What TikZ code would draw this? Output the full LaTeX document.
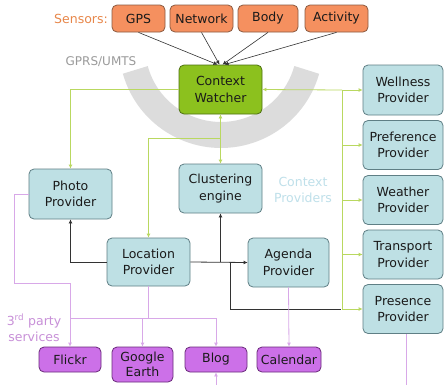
\documentclass[tikz,border=0pt]{standalone}
\usepackage{fontspec}
\setmainfont{DejaVu Sans}
\usetikzlibrary{arrows.meta}
\definecolor{sfill}{HTML}{F5905F}
\definecolor{sborder}{HTML}{8A5A40}
\definecolor{cwfill}{HTML}{8CC11E}
\definecolor{cwborder}{HTML}{4D7010}
\definecolor{pfill}{HTML}{BEE0E4}
\definecolor{pborder}{HTML}{5F7F85}
\definecolor{vfill}{HTML}{CC70E8}
\definecolor{vborder}{HTML}{6A2A7A}
\definecolor{gl}{HTML}{B9D860}
\definecolor{pl}{HTML}{D8A8E8}
\definecolor{bl}{HTML}{333333}
\definecolor{arcgray}{HTML}{DCDCDC}
\definecolor{cptext}{HTML}{BFE0EA}
\definecolor{tptext}{HTML}{C890D8}
\definecolor{sentext}{HTML}{E8874A}
\definecolor{gprstext}{HTML}{9A9A9A}
\definecolor{txt}{HTML}{1A1A1A}
\begin{document}
\begin{tikzpicture}[x=1pt,y=-1pt,
  font=\fontsize{12.5}{16.5}\selectfont,
  box/.style={draw, rounded corners=5pt, align=center, inner sep=0pt, line width=0.8pt, text=txt},
  sensor/.style={box, fill=sfill, draw=sborder, minimum height=27pt},
  prov/.style={box, fill=pfill, draw=pborder, minimum width=82pt, minimum height=49pt},
  cwbox/.style={box, fill=cwfill, draw=cwborder, minimum width=83pt, minimum height=49pt},
  svc/.style={box, fill=vfill, draw=vborder, minimum height=25pt},
  gline/.style={draw=gl, line width=0.8pt},
  pline/.style={draw=pl, line width=0.8pt},
  bline/.style={draw=bl, line width=0.8pt},
  tip/.style={-{Latex[length=4pt,width=4pt]}},
  tipb/.style={{Latex[length=4pt,width=4pt]}-{Latex[length=4pt,width=4pt]}},
  tipr/.style={{Latex[length=4pt,width=4pt]}-}]
\clip (0,0) rectangle (445,384);
\fill[white] (0,0) rectangle (445,384);
% gray arc
\draw[arcgray, line width=26pt] (135.3,69.9) arc[start angle=195.6, end angle=344.4, radius=89pt];
% texts
\node[text=sentext] (senlbl) at (81,18.5) {Sensors:};
\node[text=gprstext, font=\fontsize{12}{14}\selectfont] (gprs) at (101,62) {GPRS/UMTS};
\node[text=cptext, align=center] (cplbl) at (303,190) {Context\\Providers};
\node[text=tptext, align=center] (tplbl) at (34,328) {3\textsuperscript{rd} party\\services};
% sensors
\node[sensor, minimum width=53pt] (gps) at (138.5,18.5) {GPS};
\node[sensor, minimum width=63pt] (net) at (201.5,18.5) {Network};
\node[sensor, minimum width=60pt] (body) at (268,18.5) {Body};
\node[sensor, minimum width=63pt] (act) at (336.5,18.5) {Activity};
% main nodes
\node[cwbox] (cw) at (220.5,89.5) {Context\\Watcher};
\node[prov, minimum width=83pt, minimum height=50pt] (photo) at (70.5,194) {Photo\\Provider};
\node[prov, minimum width=83pt] (clust) at (220.5,188.5) {Clustering\\engine};
\node[prov, minimum width=83pt, minimum height=48pt] (loc) at (148.5,262) {Location\\Provider};
\node[prov, minimum width=81pt] (agenda) at (288.5,262.5) {Agenda\\Provider};
\node[prov, minimum width=80pt, minimum height=50pt] (well) at (403,90) {Wellness\\Provider};
\node[prov, minimum width=80pt] (pref) at (403,145) {Preference\\Provider};
\node[prov, minimum width=80pt] (weather) at (403,200) {Weather\\Provider};
\node[prov, minimum width=80pt] (trans) at (403,254.5) {Transport\\Provider};
\node[prov, minimum width=80pt] (pres) at (403,309) {Presence\\Provider};
% services
\node[svc, minimum width=62pt] (flickr) at (70,359.5) {Flickr};
\node[svc, minimum width=61pt, minimum height=35pt, font=\fontsize{12.5}{15}\selectfont] (gearth) at (142.5,364.5) {Google\\Earth};
\node[svc, minimum width=62pt] (blog) at (216,359.5) {Blog};
\node[svc, minimum width=64pt] (cal) at (289,359.5) {Calendar};
% sensor connectors
\draw[bline, line width=0.6pt, tip] (gps.south) -- ([xshift=-3pt]cw.north);
\draw[bline, line width=0.6pt, tip] (net.south) -- ([xshift=-1pt]cw.north);
\draw[bline, line width=0.6pt, tip] (body.south) -- ([xshift=2pt]cw.north);
\draw[bline, line width=0.6pt, tip] (act.south) -- ([xshift=4pt]cw.north);
% green connectors
\coordinate (b1) at (342,90);
\coordinate (b5) at (342,309);
\coordinate (gb) at (220.5,138);
\draw[gline, tip] (cw.west) -| (photo.north);
\draw[gline, tipr] (cw.east) -- (b1);
\draw[gline, tip] (b1) -- (well.west);
\draw[gline] (b1) -- (b5);
\draw[gline, tip] (b1 |- pref.west) -- (pref.west);
\draw[gline, tip] (b1 |- weather.west) -- (weather.west);
\draw[gline, tip] (b1 |- trans.west) -- (trans.west);
\draw[gline, tip] (b5) -- (pres.west);
\draw[gline, tipb] (cw.south) -- (clust.north);
\draw[gline, tip] (gb) -| (loc.north);
% black connectors
\coordinate (bd) at (230,262);
\draw[bline, tip] (loc.west) -| (photo.south);
\draw[bline, tip] (loc.east) -- (agenda.west);
\draw[bline, tip] (clust.south |- loc.east) -- (clust.south);
\draw[bline] (bd) |- ([xshift=-1pt]b5);
% purple connectors
\coordinate (pa) at (14,194);
\coordinate (pb) at (14,283);
\coordinate (ph) at (146,318);
\coordinate (pz) at (406,400);
\draw[pline, tip] (photo.west) -- (pa) -- (pb) -| (flickr.north);
\draw[pline] (loc.south) -- (loc.south |- ph);
\draw[pline] (flickr.north |- ph) -- (blog.north |- ph);
\draw[pline, tip] (gearth.north |- ph) -- (gearth.north);
\draw[pline, tip] (blog.north |- ph) -- (blog.north);
\draw[pline, tip] (agenda.south) -- (cal.north);
\draw[pline, tip] ([xshift=3pt]pres.south) -- (pz) -| (blog.south);
\end{tikzpicture}
\end{document}
